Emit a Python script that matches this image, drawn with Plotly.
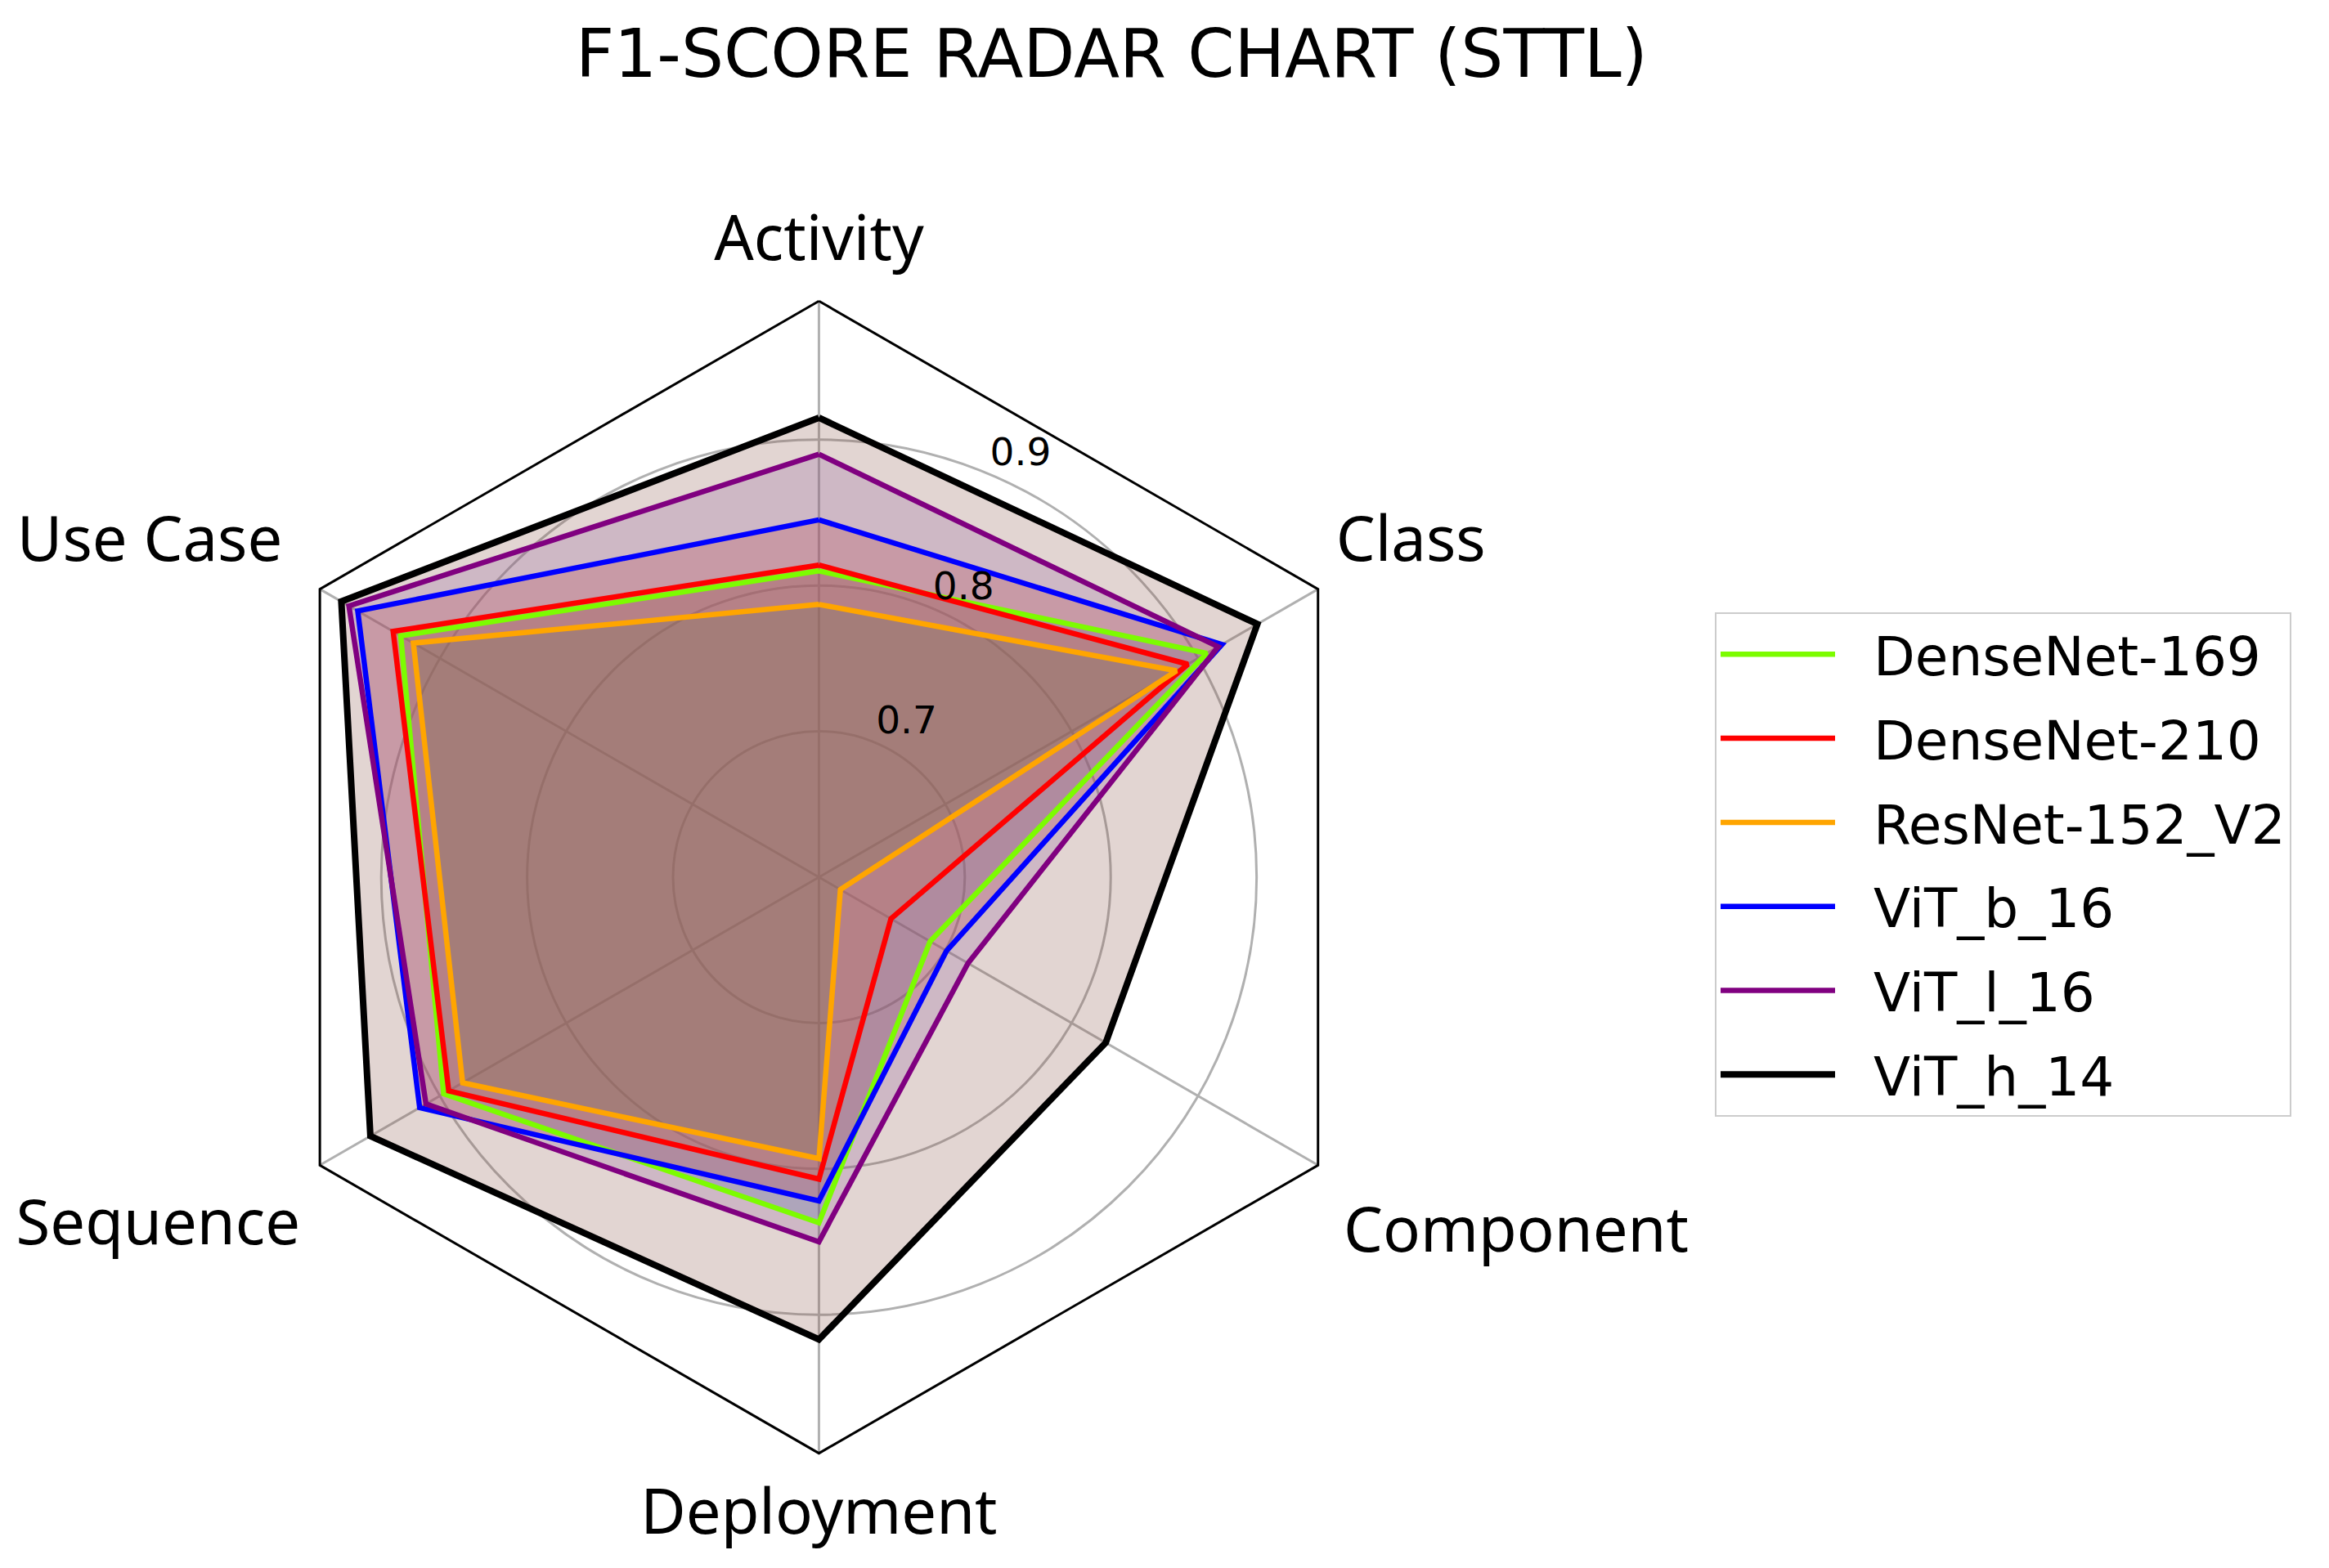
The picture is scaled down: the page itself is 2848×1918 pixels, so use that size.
import plotly.graph_objects as go

categories = ["Activity", "Class", "Component", "Deployment", "Sequence", "Use Case"]
models = ["DenseNet-169", "DenseNet-210", "ResNet-152_V2", "ViT_b_16", "ViT_l_16", "ViT_h_14"]
densenet169 = [0.810, 0.907, 0.688, 0.837, 0.897, 0.931]
densenet210 = [0.814, 0.892, 0.657, 0.807, 0.893, 0.937]
resnet152v2 = [0.787, 0.883, 0.617, 0.793, 0.882, 0.921]
vit_b_16 = [0.845, 0.919, 0.701, 0.822, 0.916, 0.965]
vit_l_16 = [0.890, 0.916, 0.718, 0.850, 0.911, 0.972]
vit_h_14 = [0.915, 0.947, 0.827, 0.917, 0.955, 0.978]
series = [densenet169, densenet210, resnet152v2, vit_b_16, vit_l_16, vit_h_14]
radial_ticks = [0.7, 0.8, 0.9]
tick_labels = ["0.7", "0.8", "0.9"]

line_colors = ["#7CFC00", "#FF0000", "#FFA500", "#0000FF", "#800080", "#000000"]
fill_colors = ["rgba(31,119,180,0.25)", "rgba(255,127,14,0.25)", "rgba(44,160,44,0.25)",
               "rgba(214,39,40,0.25)", "rgba(148,103,189,0.25)", "rgba(140,86,75,0.25)"]
line_widths = [6.5, 6.5, 6.5, 6.5, 6.5, 8]
GRID_COLOR = "#B0B0B0"

R_MIN, R_MAX = 0.6, 0.995          # frame (hexagon) at R_MAX
R_OUT = 1.03                        # radial range extends a bit for the labels
N = len(categories)
STEP = 360 / N
axis_angles = [i * STEP for i in range(N)]
RLABEL_ANGLE = 23
# label placement (relative radius and small angular nudge per category)
label_factors = [1.045, 1.038, 1.0735, 1.058, 1.058, 1.0675]
label_nudges = [0, -0.2, 2.0, 0, -1.7, -0.7]
label_positions = ["top center", "top right", "bottom right",
                   "bottom center", "bottom left", "top left"]

fig = go.Figure()

def closed(v):
    return list(v) + [v[0]]

theta_closed = closed(axis_angles)

# spokes (angular grid lines, stopping at the frame)
spoke_r, spoke_t = [], []
for a in axis_angles:
    spoke_r += [R_MIN, R_MAX, None]
    spoke_t += [a, a, None]
fig.add_trace(go.Scatterpolar(
    r=spoke_r, theta=spoke_t, mode="lines",
    line=dict(color=GRID_COLOR, width=3), showlegend=False, hoverinfo="skip"))

# fills
for name, vals, fc in zip(models, series, fill_colors):
    fig.add_trace(go.Scatterpolar(
        r=closed(vals), theta=theta_closed, mode="lines", fill="toself",
        fillcolor=fc, line=dict(width=0, color="rgba(0,0,0,0)"),
        showlegend=False, hoverinfo="skip"))

# hexagonal frame
fig.add_trace(go.Scatterpolar(
    r=[R_MAX] * (N + 1), theta=theta_closed, mode="lines",
    line=dict(color="black", width=3), showlegend=False, hoverinfo="skip",
    cliponaxis=False))

# series lines
for i, (name, vals, lc, lw) in enumerate(zip(models, series, line_colors, line_widths)):
    fig.add_trace(go.Scatterpolar(
        r=closed(vals), theta=theta_closed, mode="lines", name="\u00a0\u00a0" + name,
        line=dict(color=lc, width=lw), legendgroup=f"g{i}"))

# radial tick labels (matplotlib-style, near 22.5 deg from the first axis)
fig.add_trace(go.Scatterpolar(
    r=radial_ticks, theta=[RLABEL_ANGLE] * len(radial_ticks), mode="text",
    text=tick_labels, textposition="top right",
    textfont=dict(family="DejaVu Sans", size=47, color="black"),
    showlegend=False, hoverinfo="skip", cliponaxis=False))

# category labels around the frame
fig.add_trace(go.Scatterpolar(
    r=[R_MIN + f * (R_MAX - R_MIN) for f in label_factors],
    theta=[a + d for a, d in zip(axis_angles, label_nudges)], mode="text",
    text=categories, textposition=label_positions,
    textfont=dict(family="Noto Sans", size=76, color="black"),
    showlegend=False, hoverinfo="skip", cliponaxis=False))

fig.update_layout(
    width=2848, height=1918,
    margin=dict(l=0, r=0, t=0, b=0),
    paper_bgcolor="white", plot_bgcolor="white",
    title=dict(text="F1-SCORE RADAR CHART (STTL)", x=0.4745, y=0.970,
               xanchor="center", yanchor="middle",
               font=dict(family="DejaVu Sans", size=82, color="black")),
    polar=dict(
        domain=dict(x=[0.07945, 0.61818], y=[0.04478, 0.84473]),
        bgcolor="white",
        radialaxis=dict(range=[R_MIN, R_OUT], tickvals=radial_ticks,
                        showticklabels=False, showline=False, ticks="",
                        gridcolor=GRID_COLOR, gridwidth=3),
        angularaxis=dict(rotation=90, direction="clockwise", showline=False,
                         tickmode="array", tickvals=axis_angles,
                         showticklabels=False, ticks="", showgrid=False),
    ),
    legend=dict(x=0.7335, y=0.6137, xanchor="left", yanchor="top",
                bgcolor="white", bordercolor="#CCCCCC", borderwidth=2,
                font=dict(family="DejaVu Sans", size=66, color="black"),
                tracegroupgap=14, itemwidth=140),
)

fig.write_html("out.html")
